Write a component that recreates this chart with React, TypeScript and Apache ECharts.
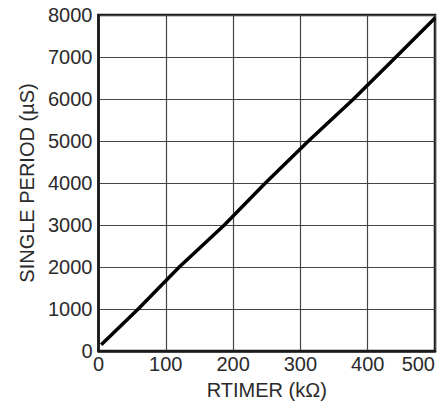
import React, { useEffect, useRef } from "react";
import * as echarts from "echarts";

const rtimer = [4, 59, 120, 187, 248, 312, 379, 442, 500];
const period = [150, 1000, 2000, 3000, 4000, 5000, 6000, 7000, 7930];
const xTicks = [0, 100, 200, 300, 400, 500];
const yTicks = [0, 1000, 2000, 3000, 4000, 5000, 6000, 7000, 8000];

export default function App() {
  const ref = useRef<HTMLDivElement>(null);
  useEffect(() => {
    if (!ref.current) return;
    const chart = echarts.init(ref.current, null, { renderer: "svg" });
    const font = "'Liberation Sans', Arial, sans-serif";
    chart.setOption({
      animation: false,
      grid: {
        left: 98.5,
        right: 13,
        top: 15,
        bottom: 62,
        show: true,
        borderColor: "#1a1a1a",
        borderWidth: 2.5,
      },
      xAxis: {
        type: "value",
        min: xTicks[0],
        max: xTicks[xTicks.length - 1],
        interval: 100,
        name: "RTIMER (kΩ)",
        nameLocation: "middle",
        nameGap: 29,
        nameTextStyle: { fontFamily: font, fontSize: 20, color: "#2a2a2a" },
        axisLine: { show: true, lineStyle: { color: "#1a1a1a", width: 2.5 } },
        axisTick: { show: false },
        axisLabel: {
          fontFamily: font,
          fontSize: 20,
          color: "#2a2a2a",
          margin: 3,
          alignMaxLabel: "right",
          formatter: (v: number) => String(v),
        },
        splitLine: { show: true, lineStyle: { color: "#444", width: 1.2 } },
      },
      yAxis: {
        type: "value",
        min: yTicks[0],
        max: yTicks[yTicks.length - 1],
        interval: 1000,
        name: "SINGLE PERIOD (µS)",
        nameLocation: "middle",
        nameGap: 61,
        nameTextStyle: { fontFamily: font, fontSize: 20, color: "#2a2a2a" },
        axisLine: { show: true, lineStyle: { color: "#1a1a1a", width: 2.5 } },
        axisTick: { show: false },
        axisLabel: {
          fontFamily: font,
          fontSize: 20,
          color: "#2a2a2a",
          margin: 6,
          formatter: (v: number) => String(v),
        },
        splitLine: { show: true, lineStyle: { color: "#444", width: 1.2 } },
      },
      series: [
        {
          type: "line",
          data: rtimer.map((x, i) => [x, period[i]]),
          showSymbol: false,
          symbol: "none",
          lineStyle: { color: "#000", width: 3.5 },
        },
      ],
    });
    return () => chart.dispose();
  }, []);
  return <div ref={ref} style={{ width: 448, height: 413, margin: -8 }} />;
}
